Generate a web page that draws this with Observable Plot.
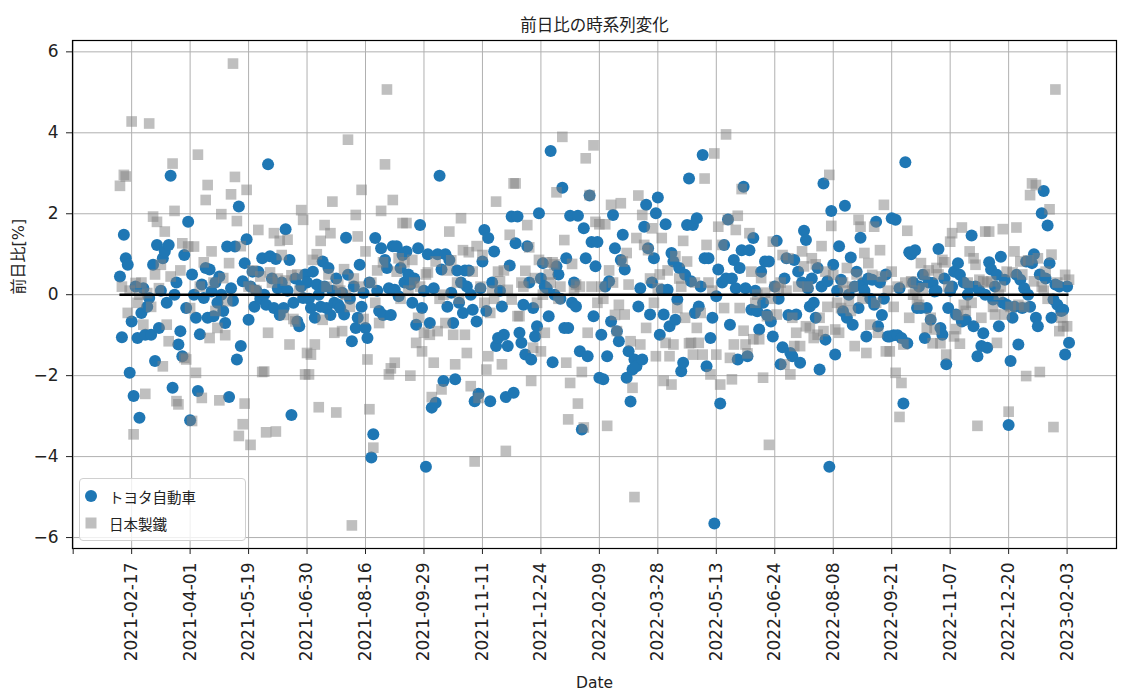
<!DOCTYPE html>
<html><head><meta charset="utf-8">
<script src="https://cdn.jsdelivr.net/npm/d3@7"></script>
<script src="https://cdn.jsdelivr.net/npm/@observablehq/plot@0.6"></script>
<style>
body{margin:0;background:#fff;}
#wrap{position:relative;width:1124px;height:698px;font-family:"DejaVu Sans","Noto Sans CJK JP",sans-serif;}
#legend{position:absolute;left:79px;top:478px;width:167px;height:63px;box-sizing:border-box;border:1px solid #d0d0d0;border-radius:4px;background:rgba(255,255,255,0.8);font-family:"Noto Sans CJK JP",sans-serif;font-size:14.5px;color:#222;}
#legend .row{position:absolute;left:0;height:20px;display:flex;align-items:center;}
#legend svg{margin-left:3px;margin-right:10px;}
</style></head><body>
<div id="wrap"><div id="chart"></div>
<div id="legend"></div></div>
<script>
const seriesNames = ["トヨタ自動車", "日本製鐵"];
const titleText = "前日比の時系列変化";
const xLabel = "Date";
const yLabel = "前日比[%]";
const tickLabels = ["2021-02-17","2021-04-01","2021-05-19","2021-06-30","2021-08-16","2021-09-29","2021-11-11","2021-12-24","2022-02-09","2022-03-28","2022-05-13","2022-06-24","2022-08-08","2022-09-21","2022-11-07","2022-12-20","2023-02-03"];
const firstTickIndex = 6;
const tickStep = 30;
const yTicks = [-6,-4,-2,0,2,4,6];

// トヨタ自動車 daily % change (trading-day order)
const toyota = [
0.45,-1.05,1.48,0.9,0.74,-1.93,-0.66,-2.5,0.2,-1.07,-3.04,-0.45,0.16,-0.99,-0.3,-0.08,-0.99,0.74,-1.64,1.23,-0.82,0.1,0.9,1.07,-0.2,1.23,2.94,-2.3,0.0,0.3,-1.23,-0.9,-1.52,0.98,-0.33,1.8,-3.1,0.5,0.0,-0.57,-2.38,-0.98,0.25,-0.08,0.66,-0.57,
0.62,0.08,-0.53,0.3,-0.2,0.45,0.0,-0.4,-0.7,1.19,-2.53,0.16,-0.15,1.19,-1.6,2.18,-1.27,0.33,0.78,1.37,-0.62,0.2,0.57,-0.3,0.1,0.57,-0.1,0.9,0.0,-0.25,3.22,0.95,0.4,-0.33,0.88,0.16,-0.5,0.3,-0.33,1.62,0.1,0.86,-2.97,-0.2,0.4,-0.66,-0.78,0.2,-0.08,0.5,
0.3,-0.1,-0.33,0.57,-0.57,0.25,0.0,-0.3,0.82,0.2,-0.33,0.66,-0.5,0.1,-0.2,0.4,-0.25,-0.33,0.05,-0.49,1.41,0.49,-0.1,-1.15,0.2,-0.82,-0.57,0.74,-0.3,0.04,-0.82,-1.07,0.3,-4.02,-3.45,1.4,0.1,-0.4,1.15,-0.5,0.86,0.66,0.16,-0.5,1.2,0.12,1.2,-0.04,0.66,0.98,
0.3,1.07,0.5,0.25,-0.2,0.4,-0.74,1.15,1.72,-0.33,0.1,-4.25,1.0,-0.7,-2.79,0.16,-2.67,1.0,2.94,0.62,-2.13,1.0,-0.3,0.86,0.05,-0.7,-2.09,0.6,-0.2,0.3,-0.45,0.6,0.2,0.6,0.0,-0.37,-2.63,-0.66,-2.45,0.16,0.82,1.6,-0.4,1.4,-2.63,0.3,1.07,-1.27,-1.07,0.1,
-0.29,-0.99,-2.53,-1.27,0.72,1.93,-2.42,1.27,1.93,-0.94,-1.19,-0.25,-1.48,1.2,0.3,-1.6,-0.33,-1.03,-0.78,2.01,0.4,0.78,0.2,0.16,-0.53,3.55,-1.67,0.0,0.7,0.5,-0.1,2.64,-0.82,0.9,-0.82,1.95,-0.2,0.3,-0.29,1.95,-1.4,-3.33,1.64,0.9,-1.52,2.45,1.3,-0.53,0.7,1.3,
-2.05,-0.99,-2.09,0.2,-1.52,0.33,-0.66,1.97,1.15,-0.9,-1.15,0.86,1.48,0.62,-2.05,-1.4,-2.64,-1.85,-1.6,-1.77,-0.29,0.16,-1.6,1.68,2.22,1.15,-0.49,0.3,0.9,2.01,2.4,-0.99,0.12,-0.49,1.74,0.12,-0.78,1.03,0.82,-0.62,-0.12,0.66,-1.89,-1.68,0.49,1.72,2.87,0.33,1.72,-0.45,
1.89,-0.29,0.2,3.45,0.9,-1.77,0.9,-1.07,-0.57,-5.65,-0.04,0.62,-2.69,0.3,1.23,0.4,1.86,-0.74,0.4,0.86,0.16,-1.6,0.66,1.1,2.67,0.16,-1.52,1.1,-0.37,1.4,0.1,-0.41,-0.86,0.57,-0.2,0.82,-0.5,0.82,-0.66,-1.03,0.2,1.33,-0.1,-1.72,-1.3,0.4,0.9,-0.5,-1.44,
-1.52,0.86,-0.49,0.57,-1.68,0.3,1.58,1.35,0.16,-0.29,0.4,-0.2,-0.57,0.66,-1.85,0.2,2.75,-1.11,0.33,-4.25,2.07,0.74,-1.48,0.1,1.2,0.37,-0.41,2.2,-0.57,0.0,0.92,-0.74,0.2,0.57,-0.33,1.41,0.28,0.1,-1.03,0.4,-0.1,0.37,-0.25,1.8,-0.78,0.3,-0.5,-0.1,0.5,-1.03,
-1.03,1.89,-1.0,1.85,-1.0,0.16,-1.07,-2.69,3.27,-1.2,1.05,1.0,0.3,1.1,-0.33,0.2,-0.33,0.49,-1.07,-0.33,0.3,-0.62,0.29,0.08,0.1,1.13,-0.82,-0.99,0.4,-1.72,-0.33,0.1,0.2,0.57,-0.49,0.78,0.49,-0.66,0.3,-0.62,0.0,0.2,1.46,-0.78,0.2,-1.52,0.1,-1.27,-0.95,0.0,
-1.31,0.8,0.62,-0.12,0.2,0.49,-0.78,0.94,-0.2,0.37,-0.25,-3.22,-1.64,-0.57,-0.3,0.49,-1.23,0.37,-0.33,0.16,0.82,0.0,-0.3,0.78,1.0,-0.57,-0.78,0.5,2.01,2.56,0.4,1.71,0.78,-0.57,-0.12,0.25,-0.25,0.2,-0.4,-0.37,-1.48,0.2,-1.19
];

// 日本製鐵 daily % change (trading-day order)
const nipponSteel = [
2.69,0.2,2.96,2.92,-0.45,0.1,4.28,-3.45,0.29,-0.2,0.0,0.3,-0.74,-2.45,0.04,4.23,-0.3,1.93,0.5,1.8,0.16,0.74,-1.77,1.56,-0.74,-1.15,0.45,3.24,2.07,-2.63,-2.71,0.6,1.27,-1.56,-1.6,1.19,-0.33,-3.12,1.19,-1.93,3.46,0.2,-2.55,0.8,2.34,2.71,
-1.07,1.07,0.3,-0.4,-0.82,-2.61,1.99,0.41,-1.0,-0.16,0.78,2.48,5.71,2.91,1.82,-3.49,1.2,-3.2,-2.69,2.59,0.2,-3.71,0.6,0.12,0.1,1.6,0.45,-1.91,-1.9,-3.4,-0.94,0.55,0.3,1.52,-3.38,0.4,1.33,0.98,-0.5,0.35,1.36,-1.23,0.48,-0.6,-0.66,0.5,0.1,2.09,1.85,-1.97,
-1.44,-1.97,-1.48,0.86,-1.23,1.0,-2.78,1.33,-0.62,1.72,0.2,0.5,1.52,2.3,-0.94,-2.91,0.25,0.1,-0.9,0.63,0.0,3.83,-0.3,-5.7,0.4,1.97,1.44,0.2,2.59,-0.6,1.07,-1.6,-2.83,0.3,-3.78,-0.2,0.6,-0.7,2.07,0.8,3.22,5.07,-1.97,-1.82,2.34,-1.68,0.57,0.9,-0.1,1.77,
0.8,1.77,0.1,-2.0,0.86,0.3,-1.19,-0.57,0.2,-1.4,-0.94,0.5,0.55,-0.99,-2.53,-1.68,0.82,-0.9,-0.1,-2.34,0.0,-0.7,0.6,1.56,0.85,-0.99,-1.72,0.3,-0.1,1.89,1.1,-0.99,-1.44,1.05,-2.26,0.57,-4.12,1.2,-2.55,0.2,0.98,-0.2,-1.85,-1.52,-0.45,0.1,-0.1,2.3,0.57,0.33,
-1.72,0.6,-3.86,0.12,1.48,-0.12,2.75,2.75,-0.53,-0.53,0.3,0.2,0.59,1.72,1.17,-2.13,-1.31,0.41,-0.2,0.86,-1.4,0.0,-0.94,0.8,0.5,0.3,0.8,0.75,2.53,-0.1,0.2,3.9,1.35,-1.68,-3.08,-2.18,0.76,0.1,0.25,-2.69,0.2,-1.91,-3.28,3.37,-0.94,2.46,0.2,3.69,1.8,-0.2,
1.74,0.2,-0.1,1.74,-3.24,0.6,2.22,0.3,-0.5,-0.9,-0.25,2.26,0.82,-0.49,1.03,0.25,-1.15,-2.3,-5.0,1.4,2.45,-1.23,1.97,1.23,-0.82,1.1,0.4,1.64,-0.2,-1.52,0.16,0.5,1.4,-2.13,-1.19,0.6,-1.52,-2.22,-1.23,0.95,-0.33,0.4,0.2,1.33,-0.57,0.82,-1.2,-1.19,-1.48,0.3,
-0.82,-1.19,-0.45,-1.48,2.87,1.23,0.3,-1.97,0.1,3.49,-1.48,1.68,-2.22,1.23,-0.33,3.96,1.85,-1.56,-2.09,-1.23,1.6,1.95,-0.33,2.61,-0.89,-1.23,-1.45,1.52,0.57,-1.1,-0.2,0.0,-1.1,0.41,-2.05,0.05,-0.53,-3.71,-0.1,1.31,0.2,-0.49,0.15,0.3,0.98,-1.72,0.1,0.9,-1.97,
-0.57,-1.27,-0.94,0.2,-1.27,1.07,0.7,-0.78,0.2,-0.82,0.9,-1.07,0.75,-0.99,-0.57,1.2,-0.9,0.57,-0.3,2.96,1.7,0.49,-0.86,-0.2,-0.94,-0.33,0.3,0.1,0.66,-0.15,-0.4,0.2,-1.27,0.5,1.85,1.68,-0.1,1.03,-1.44,0.78,-0.74,0.49,1.68,-0.2,-0.94,1.1,0.45,2.22,-1.4,0.1,
-1.4,0.57,-0.3,-1.93,0.2,-3.02,-2.18,-1.23,0.3,1.58,-0.57,0.33,0.0,0.1,-0.12,-0.25,0.78,0.16,0.5,-0.82,0.6,-0.57,-1.2,-0.86,0.66,0.5,-1.2,0.86,0.8,-1.48,0.2,1.31,1.52,-1.03,-0.85,-0.5,-1.21,1.66,-0.25,-0.4,0.3,1.07,-0.2,0.9,0.74,-3.24,0.37,-0.57,0.33,1.56,
0.3,1.56,0.33,-0.3,-0.49,-1.19,0.0,0.2,1.62,-0.49,0.57,-2.89,-0.3,0.55,1.07,1.66,-0.25,0.82,0.5,-0.3,-2.01,0.85,2.46,2.75,0.33,2.71,0.9,-1.91,0.2,0.1,0.57,-0.1,2.11,0.99,-3.27,5.07,0.3,-0.9,-0.57,-0.78,0.49,-0.78,0.37
];

const colors = {toyota:"#1f77b4", steel:"gray"};
const n = toyota.length;
const idx = d3.range(n);
const tickPositions = tickLabels.map((_, k) => firstTickIndex + k * tickStep);
const allXTicks = [firstTickIndex - tickStep, ...tickPositions];
const labelAt = new Map(tickPositions.map((p, k) => [p, tickLabels[k]]));
const xPad = (n - 1) * 0.05;
const allVals = toyota.concat(nipponSteel);
const yMin = d3.min(allVals), yMax = d3.max(allVals), yPad = (yMax - yMin) * 0.05;
const font = '"DejaVu Sans","Noto Sans CJK JP",sans-serif';

const chart = Plot.plot({
  width: 1124, height: 698,
  marginLeft: 72, marginRight: 8, marginTop: 40, marginBottom: 150,
  style: {fontFamily: font, fontSize: "16px", color: "#222", background: "white"},
  x: {domain: [-xPad, n - 1 + xPad]},
  y: {domain: [yMin - yPad, yMax + yPad]},
  marks: [
    Plot.gridX(allXTicks, {stroke: "#b0b0b0", strokeOpacity: 1, strokeWidth: 1}),
    Plot.gridY(yTicks, {stroke: "#b0b0b0", strokeOpacity: 1, strokeWidth: 1}),
    Plot.dot(idx, {x: i => i, y: i => toyota[i], r: 6, fill: colors.toyota, stroke: null, symbol: "circle"}),
    Plot.dot(idx, {x: i => i, y: i => nipponSteel[i], r: 6.0, fill: colors.steel, fillOpacity: 0.5, stroke: null, symbol: "square"}),
    Plot.ruleY([0], {x1: 0, x2: n - 1, stroke: "black", strokeWidth: 2.5}),
    Plot.frame({stroke: "black", strokeWidth: 1.2}),
    Plot.axisX(allXTicks, {tickFormat: d => labelAt.get(d) ?? "", tickRotate: -90, tickSize: 6, tickPadding: 8, fontSize: 17, label: null}),
    Plot.axisY(yTicks, {tickSize: 6, tickPadding: 8, fontSize: 17, label: null}),
    Plot.text([titleText], {frameAnchor: "top", dy: -21, fontSize: 16.5, fontFamily: '"Noto Sans CJK JP",sans-serif', fill: "#222"}),
    Plot.text([yLabel], {frameAnchor: "left", dx: -54, rotate: -90, fontSize: 16, fill: "#222"}),
    Plot.text([xLabel], {frameAnchor: "bottom", dy: 139, fontSize: 15.5, fill: "#222"})
  ]
});
document.getElementById("chart").appendChild(chart);

const legend = document.getElementById("legend");
const syms = [
  `<svg width="16" height="16"><circle cx="8" cy="8" r="6" fill="${colors.toyota}"/></svg>`,
  `<svg width="16" height="16"><rect x="2.5" y="2.5" width="11" height="11" fill="${colors.steel}" fill-opacity="0.5"/></svg>`
];
seriesNames.forEach((name, k) => {
  const row = document.createElement("div");
  row.className = "row";
  row.style.top = (7 + k * 27) + "px";
  row.innerHTML = syms[k] + `<span>${name}</span>`;
  legend.appendChild(row);
});
</script>
</body></html>
